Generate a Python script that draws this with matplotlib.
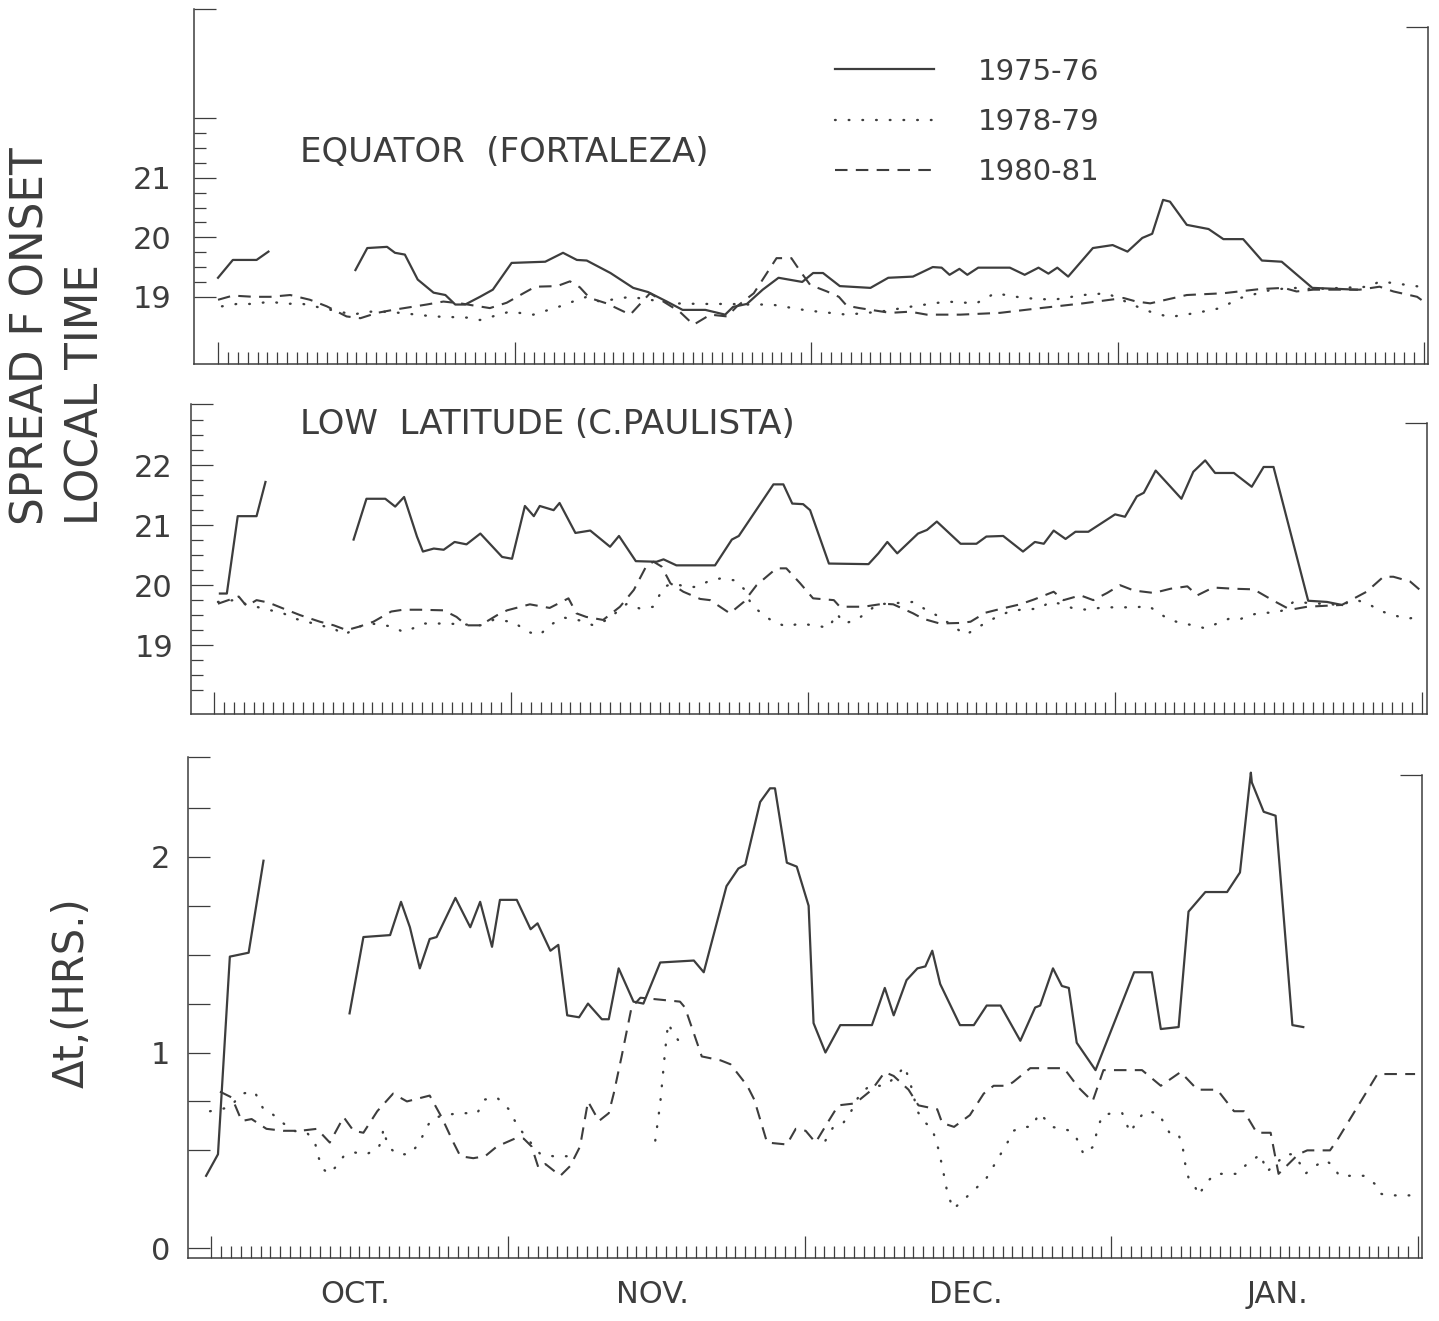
import numpy as np
import matplotlib
matplotlib.use("Agg")
import matplotlib.pyplot as plt
from matplotlib.transforms import blended_transform_factory

# =============================================================================
# Data: day index (0 = 1 Oct) and values; nan = gap
# =============================================================================
nan = np.nan

# --- Equator (Fortaleza), spread F onset local time ---
eq_7576_day = [0, 1.5, 3.9, 5.1, 9,
               13.9, 15.1, 17.1, 17.9, 18.9, 20.2, 21.8, 23.0, 24.0, 25.0, 26.5, 27.8, 29.7,
               33.1, 34.9, 36.3, 37.3, 39.7, 42.0, 43.5, 45.4, 47.0, 49.3, 51.3, 52.1, 53.5,
               55.1, 56.7, 59.1, 60.2, 61.2, 62.9, 66.0, 67.8, 70.3, 72.3, 73.2, 74.0, 75.0,
               75.8, 76.9, 80.1, 81.6, 83.0, 84.0, 84.9, 86.0, 88.5, 90.5, 92.0, 93.5, 94.5,
               95.6, 96.3, 98.0, 100.2, 101.7, 103.7, 105.6, 107.6, 110.7, 115.2]
eq_7576_val = [19.32, 19.62, 19.62, 19.76, nan,
               19.45, 19.82, 19.84, 19.74, 19.71, 19.29, 19.07, 19.03, 18.87, 18.87, 19.0, 19.12, 19.57,
               19.59, 19.74, 19.62, 19.61, 19.40, 19.15, 19.08, 18.92, 18.78, 18.78, 18.70, 18.83, 18.88,
               19.12, 19.32, 19.25, 19.40, 19.40, 19.18, 19.15, 19.32, 19.34, 19.50, 19.49, 19.37, 19.47,
               19.37, 19.49, 19.49, 19.37, 19.49, 19.39, 19.49, 19.34, 19.82, 19.87, 19.76, 19.99, 20.06,
               20.63, 20.60, 20.21, 20.14, 19.97, 19.97, 19.61, 19.59, 19.15, 19.12]

eq_7879_day = [0.4, 1.9, 3.6, 5.3, 6.8, 8.3, 10.3, 13.7, 15.0, 16.7, 18.4, 20.1, 21.8, 25.2, 26.5,
               29.5, 31.9, 34.6, 35.9, 37.3, 38.6, 41.7, 46.1, 48.8, 51.8, 53.5, 56.0, 59.6, 63.6,
               67.0, 70.3, 73.7, 76.7, 78.6, 81.5, 84.5, 87.5, 89.9, 92.9, 94.6, 96.3, 99.0, 101.4,
               103.4, 106.6, 108.8, 110.8, 116.5, 117.5, 118.9, 121.6]
eq_7879_val = [18.84, 18.88, 18.88, 18.92, 18.88, 18.89, 18.82, 18.70, 18.75, 18.75, 18.73, 18.70, 18.67,
               18.65, 18.61, 18.75, 18.70, 18.84, 18.92, 19.0, 18.92, 19.0, 18.89, 18.88, 18.88, 18.87,
               18.87, 18.77, 18.70, 18.75, 18.84, 18.92, 18.89, 19.06, 18.98, 18.95, 19.03, 19.06, 18.84,
               18.73, 18.66, 18.73, 18.81, 18.98, 19.12, 19.15, 19.13, 19.17, 19.26, 19.23, 19.17]

eq_8081_day = [0, 1.5, 3.6, 5.3, 7.3, 9.3, 11.0, 13.0, 14.4, 16.1, 17.7, 21.1, 22.8, 24.5, 27.5, 29.2,
               30.9, 32.1, 34.3, 35.6, 36.6, 37.6, 39.3, 41.7, 43.7, 46.7, 48.1, 49.8, 51.5, 52.5,
               54.2, 56.5, 58.0, 58.9, 59.9, 61.6, 62.8, 63.6, 64.9, 68.0, 70.0, 71.7, 75.1, 79.1,
               83.2, 87.5, 91.6, 92.9, 94.3, 98.0, 101.7, 105.4, 107.8, 109.1, 110.8, 115.5, 117.5,
               118.9, 121.3, 122.3]
eq_8081_val = [18.95, 19.02, 19.0, 19.0, 19.03, 18.95, 18.84, 18.67, 18.64, 18.73, 18.78, 18.87, 18.92,
               18.89, 18.81, 18.90, 19.06, 19.17, 19.18, 19.26, 19.16, 18.98, 18.89, 18.70, 19.06, 18.75,
               18.53, 18.70, 18.67, 18.84, 19.06, 19.65, 19.65, 19.43, 19.20, 19.09, 19.0, 18.85, 18.81,
               18.73, 18.75, 18.70, 18.70, 18.73, 18.81, 18.89, 18.98, 18.92, 18.89, 19.03, 19.06, 19.13,
               19.15, 19.09, 19.12, 19.12, 19.17, 19.09, 19.0, 18.88]

# --- Low latitude (Cachoeira Paulista) ---
lo_7576_day = [0.6, 1.3, 2.4, 4.3, 5.2, 9,
               14.1, 15.4, 17.3, 18.3, 19.2, 20.5, 21.1, 22.2, 23.2, 24.3, 25.5, 26.9, 29.1, 30.1,
               31.4, 32.3, 32.9, 34.3, 34.9, 36.5, 38.0, 40.0, 40.9, 42.6, 44.7, 45.4, 46.7, 50.6,
               52.3, 53.0, 56.5, 57.5, 58.4, 59.5, 60.2, 62.1, 66.1, 67.1, 68.0, 69.0, 71.1, 72.0,
               73.0, 75.4, 77.0, 78.0, 79.7, 81.7, 82.9, 83.8, 84.8, 86.0, 87.0, 88.3, 91.0, 92.0,
               93.2, 93.9, 95.1, 96.6, 97.7, 98.9, 100.1, 101.1, 103.0, 104.8, 106.0, 107.0, 110.5,
               112.4, 113.9]
lo_7576_val = [19.86, 19.86, 21.15, 21.15, 21.72, nan,
               20.76, 21.44, 21.44, 21.31, 21.47, 20.81, 20.56, 20.61, 20.59, 20.72, 20.68, 20.86, 20.47,
               20.44, 21.32, 21.15, 21.32, 21.25, 21.37, 20.87, 20.91, 20.64, 20.82, 20.40, 20.39, 20.43,
               20.33, 20.33, 20.76, 20.82, 21.68, 21.68, 21.36, 21.35, 21.25, 20.36, 20.35, 20.53, 20.72,
               20.53, 20.86, 20.92, 21.06, 20.69, 20.69, 20.81, 20.82, 20.56, 20.72, 20.69, 20.91, 20.77,
               20.89, 20.89, 21.18, 21.14, 21.48, 21.54, 21.91, 21.64, 21.44, 21.89, 22.08, 21.87, 21.87,
               21.64, 21.97, 21.97, 19.74, 19.72, 19.67]

lo_7879_day = [0.4, 2.0, 3.5, 7.0, 8.2, 9.4, 10.7, 12.1, 13.1, 14.7, 15.9, 18.0, 19.1, 20.1, 21.1, 23.5,
               26.9, 28.2, 30.2, 31.7, 32.9, 33.9, 35.3, 37.0, 38.3, 39.7, 41.7, 43.0, 44.4, 45.4,
               46.4, 47.7, 48.8, 50.1, 51.1, 52.6, 53.5, 54.3, 55.5, 56.5, 57.8, 59.2, 60.5, 62.1,
               62.9, 63.6, 64.9, 67.0, 70.6, 72.0, 73.3, 74.7, 75.9, 76.7, 77.9, 79.4, 80.7, 83.4,
               84.4, 85.5, 86.8, 88.2, 89.8, 91.5, 93.0, 94.4, 95.4, 96.4, 97.6, 98.9, 100.1, 101.3,
               102.5, 103.6, 104.6, 105.8, 107.0, 108.0, 109.0, 113.7, 115.4, 116.6, 117.6, 119.1,
               120.5, 121.7]
lo_7879_val = [19.72, 19.75, 19.67, 19.53, 19.44, 19.39, 19.33, 19.28, 19.17, 19.31, 19.36, 19.31, 19.22,
               19.28, 19.36, 19.36, 19.33, 19.42, 19.39, 19.22, 19.17, 19.33, 19.46, 19.41, 19.33, 19.42,
               19.69, 19.61, 19.64, 19.97, 20.03, 19.97, 19.97, 20.08, 20.11, 20.08, 19.94, 19.67, 19.50,
               19.39, 19.31, 19.36, 19.33, 19.29, 19.53, 19.36, 19.42, 19.68, 19.72, 19.58, 19.47, 19.31,
               19.17, 19.25, 19.37, 19.50, 19.58, 19.61, 19.72, 19.69, 19.61, 19.59, 19.63, 19.63, 19.63,
               19.65, 19.54, 19.43, 19.37, 19.33, 19.28, 19.36, 19.44, 19.43, 19.50, 19.54, 19.54, 19.58,
               19.72, 19.67, 19.75, 19.69, 19.58, 19.50, 19.44, 19.47]

lo_8081_day = [0.4, 2.5, 3.3, 4.3, 5.5, 7.0, 8.7, 10.7, 12.1, 13.4, 14.7, 16.1, 17.9, 19.1, 20.8, 23.2,
               24.5, 25.5, 26.9, 28.6, 29.6, 31.9, 33.9, 35.8, 36.6, 37.6, 39.3, 41.0, 42.4, 43.7,
               44.4, 45.2, 46.1, 47.4, 49.1, 50.1, 52.1, 53.5, 54.8, 56.8, 57.8, 59.2, 60.5, 62.6,
               63.2, 65.6, 67.6, 68.6, 70.6, 71.6, 73.3, 75.4, 76.4, 77.9, 79.1, 81.4, 82.8, 84.8,
               85.8, 87.5, 88.8, 90.2, 91.5, 92.9, 94.9, 96.6, 98.3, 99.3, 100.9, 103.0, 105.0, 107.0,
               108.7, 110.4, 113.9, 116.4, 118.1, 119.1, 120.8, 122.0]
lo_8081_val = [19.69, 19.81, 19.65, 19.75, 19.71, 19.61, 19.50, 19.39, 19.33, 19.25, 19.31, 19.39, 19.56,
               19.59, 19.59, 19.58, 19.47, 19.33, 19.33, 19.50, 19.58, 19.68, 19.62, 19.78, 19.53, 19.47,
               19.42, 19.64, 19.92, 20.33, 20.39, 20.31, 20.03, 19.89, 19.77, 19.75, 19.53, 19.72, 20.0,
               20.28, 20.28, 20.03, 19.78, 19.75, 19.64, 19.64, 19.69, 19.68, 19.53, 19.44, 19.36, 19.37,
               19.39, 19.54, 19.59, 19.68, 19.76, 19.89, 19.75, 19.83, 19.75, 19.87, 20.0, 19.91, 19.87,
               19.94, 19.98, 19.83, 19.96, 19.94, 19.93, 19.74, 19.59, 19.64, 19.67, 19.89, 20.14, 20.14,
               20.06, 19.89]

# --- Delta t (hours) ---
dt_7576_day = [-0.5, 0.7, 1.9, 3.8, 5.3, 9,
               14.0, 15.4, 18.1, 19.2, 20.1, 21.1, 22.1, 22.8, 24.7, 26.2, 27.2, 28.4, 29.2, 30.9,
               32.3, 33.0, 34.3, 35.1, 36.0, 37.2, 38.1, 39.5, 40.2, 41.2, 42.7, 43.7, 45.4, 48.8,
               49.8, 52.1, 53.3, 54.0, 55.5, 56.5, 57.0, 58.2, 59.2, 60.4, 60.9, 62.1, 63.6, 66.8,
               68.1, 69.0, 70.3, 71.4, 72.2, 72.9, 73.7, 75.7, 77.1, 78.4, 79.8, 81.8, 83.3, 83.8,
               85.1, 86.0, 86.7, 87.5, 89.4, 93.3, 95.1, 96.0, 97.8, 98.8, 100.5, 102.7, 104.0,
               105.1, 105.2, 106.4, 107.6, 109.3, 110.4]
dt_7576_val = [0.37, 0.48, 1.49, 1.51, 1.98, nan,
               1.20, 1.59, 1.60, 1.77, 1.64, 1.43, 1.58, 1.59, 1.79, 1.64, 1.77, 1.54, 1.78, 1.78,
               1.63, 1.66, 1.52, 1.55, 1.19, 1.18, 1.25, 1.17, 1.17, 1.43, 1.26, 1.25, 1.46, 1.47,
               1.41, 1.85, 1.94, 1.96, 2.28, 2.35, 2.35, 1.97, 1.95, 1.75, 1.15, 1.0, 1.14, 1.14,
               1.33, 1.19, 1.37, 1.43, 1.44, 1.52, 1.35, 1.14, 1.14, 1.24, 1.24, 1.06, 1.23, 1.24,
               1.43, 1.34, 1.33, 1.05, 0.91, 1.41, 1.41, 1.12, 1.13, 1.72, 1.82, 1.82, 1.92,
               2.43, 2.38, 2.23, 2.21, 1.14, 1.13]

dt_7879_day = [-0.1, 1.9, 3.1, 4.4, 5.3, 6.1, 7.0, 8.3, 9.7, 10.5, 10.9, 11.2, 11.9, 12.7, 13.4, 14.4,
               15.7, 16.9, 17.3, 17.4, 17.9, 18.8, 20.1, 21.1, 21.6, 22.3, 23.5, 25.2, 26.9, 27.7,
               28.9, 30.1, 30.6, 31.2, 32.3, 33.3, 34.6, 36.1, 40,
               44.9, 45.4, 45.9, 46.2, 46.7, 47.4, 47.8, 55,
               62.1, 62.9, 63.9, 64.6, 65.6, 66.6, 68.1, 69.3, 70.1, 70.7, 71.4, 72.0, 72.9, 73.5,
               73.9, 74.4, 75.0, 75.7, 77.4, 78.4, 79.1, 79.8, 80.5, 81.1, 82.1, 83.0, 83.7, 84.3,
               85.0, 86.0, 86.9, 87.5, 88.2, 89.2, 89.6, 90.1, 91.1, 92.1, 92.9, 93.6, 94.4, 95.8,
               96.4, 97.0, 97.8, 98.2, 98.5, 98.8, 99.5, 99.8, 100.7, 101.5, 102.5, 103.7, 104.7,
               106.1, 106.7, 107.6, 108.6, 109.4, 110.1, 110.6, 111.6, 112.6, 113.5, 114.0, 115.2,
               116.6, 117.6, 118.1, 118.9, 120.3, 121.6]
dt_7879_val = [0.70, 0.72, 0.79, 0.80, 0.71, 0.69, 0.65, 0.60, 0.59, 0.54, 0.46, 0.41, 0.38, 0.42, 0.47,
               0.49, 0.48, 0.51, 0.56, 0.61, 0.52, 0.48, 0.48, 0.54, 0.60, 0.66, 0.68, 0.69, 0.69, 0.76,
               0.77, 0.71, 0.66, 0.61, 0.54, 0.48, 0.47, 0.47, nan,
               0.55, 0.74, 1.01, 1.15, 1.10, 1.05, 1.02, nan,
               0.55, 0.62, 0.64, 0.69, 0.79, 0.83, 0.83, 0.88, 0.93, 0.84, 0.70, 0.65, 0.61, 0.51,
               0.42, 0.29, 0.20, 0.23, 0.31, 0.36, 0.42, 0.48, 0.54, 0.60, 0.62, 0.62, 0.69, 0.66,
               0.62, 0.61, 0.60, 0.56, 0.48, 0.52, 0.61, 0.68, 0.69, 0.69, 0.59, 0.65, 0.70, 0.69,
               0.63, 0.58, 0.58, 0.52, 0.42, 0.36, 0.31, 0.27, 0.34, 0.38, 0.38, 0.38, 0.43,
               0.48, 0.39, 0.43, 0.48, 0.48, 0.43, 0.38, 0.42, 0.45, 0.42, 0.37, 0.37,
               0.37, 0.33, 0.28, 0.27, 0.27, 0.27]

dt_8081_day = [0.9, 2.1, 3.1, 4.1, 5.6, 7.3, 9.0, 10.7, 12.0, 13.4, 14.4, 15.4, 16.8, 18.4, 19.8, 22.1,
               23.3, 24.5, 25.2, 26.5, 27.7, 28.9, 30.7, 31.6, 32.4, 33.1, 33.8, 35.3, 36.3, 37.3,
               38.1, 39.2, 40.2, 40.7, 41.5, 42.5, 43.4, 47.4, 47.9, 49.6, 51.5, 52.5, 54.2, 54.9,
               56.2, 58.2, 59.1, 60.1, 61.1, 62.3, 63.4, 65.1, 66.8, 68.1, 69.0, 70.5, 71.5, 73.4,
               73.9, 75.1, 76.7, 78.1, 79.1, 80.5, 81.1, 82.8, 86.2, 87.7, 89.1, 90.2, 94.1, 96.0,
               98.0, 99.7, 101.7, 103.4, 104.4, 105.7, 107.1, 107.9, 109.9, 110.8, 113.1, 113.8,
               117.9, 121.7]
dt_8081_val = [0.80, 0.77, 0.65, 0.66, 0.61, 0.60, 0.60, 0.61, 0.54, 0.67, 0.60, 0.59, 0.70, 0.79, 0.75,
               0.78, 0.67, 0.54, 0.47, 0.46, 0.47, 0.52, 0.56, 0.56, 0.52, 0.41, 0.43, 0.37, 0.42, 0.52,
               0.75, 0.65, 0.69, 0.79, 0.98, 1.23, 1.28, 1.26, 1.23, 0.98, 0.96, 0.94, 0.83, 0.76,
               0.54, 0.53, 0.61, 0.60, 0.54, 0.64, 0.73, 0.74, 0.81, 0.90, 0.88, 0.81, 0.73, 0.71,
               0.64, 0.62, 0.68, 0.79, 0.83, 0.83, 0.85, 0.92, 0.92, 0.82, 0.75, 0.91, 0.91, 0.83,
               0.90, 0.81, 0.81, 0.70, 0.70, 0.59, 0.59, 0.38, 0.48, 0.50, 0.50, 0.55,
               0.89, 0.89]

season_labels = ["1975-76", "1978-79", "1980-81"]
month_names = ["OCT.", "NOV.", "DEC.", "JAN."]
month_mid_day = [14.6, 44.6, 76.3, 107.8]
month_end_day = [0, 30, 60, 91, 122]

# =============================================================================
# Style
# =============================================================================
INK = "#3d3d3d"
W, H = 1439, 1321
plt.rcParams["font.family"] = ["DejaVu Sans"]
plt.rcParams["text.color"] = INK

styles = [dict(color=INK, lw=1.6, ls="-"),
          dict(color=INK, lw=1.7, ls=(0, (0.3, 5.5)), dash_capstyle="round"),
          dict(color=INK, lw=1.5, ls=(0, (6, 4)))]


def px_axes(fig, left, right, top, bottom):
    # axes placed from pixel box (y counted from the top of the image)
    return fig.add_axes([left / W, 1 - bottom / H, (right - left) / W, (bottom - top) / H])


def frame(ax, xlim, ylim, right_top, major, labels, minor, major_len, minor_len, lpad):
    ax.set_xlim(*xlim)
    ax.set_ylim(*ylim)
    ax.spines["top"].set_visible(False)
    for side in ["left", "bottom", "right"]:
        ax.spines[side].set_color(INK)
        ax.spines[side].set_linewidth(1.1)
    # the right frame line of the original stops a little below the top
    ax.spines["right"].set_bounds(ylim[0], right_top)
    ax.set_xticks(month_end_day)
    ax.set_xticks(np.arange(0, 123), minor=True)
    ax.set_xticklabels([])
    ax.set_yticks(list(major) + [ylim[1]])
    ax.set_yticklabels(list(labels) + [""])
    ax.set_yticks(minor, minor=True)
    ax.tick_params(axis="x", which="major", direction="in", length=16, width=0.9, color=INK)
    ax.tick_params(axis="x", which="minor", direction="in", length=9, width=0.9, color=INK)
    ax.tick_params(axis="y", which="major", direction="in", length=major_len, width=0.9,
                   color=INK, labelsize=22, labelcolor=INK, pad=lpad)
    ax.tick_params(axis="y", which="minor", direction="in", length=minor_len, width=0.9, color=INK)
    # short cap at the top of the right frame line
    ax2 = ax.twinx()
    ax2.set_ylim(*ylim)
    ax2.set_yticks([right_top])
    ax2.set_yticklabels([])
    ax2.tick_params(axis="y", direction="in", length=16, width=0.9, color=INK)
    for side in ["top", "left", "bottom", "right"]:
        ax2.spines[side].set_visible(False)


def draw(ax, series):
    lines = []
    for (d, v), st in zip(series, styles):
        ln, = ax.plot(d, v, **st)
        lines.append(ln)
    return lines


fig = plt.figure(figsize=(W / 100, H / 100), dpi=100)
fig.patch.set_facecolor("white")

# --- top panel: equator ---
ax1 = px_axes(fig, 194, 1428, 9, 364)
frame(ax1, (-2.43, 122.4), (17.87, 23.84), 23.54, [19, 20, 21, 22], ["19", "20", "21", ""],
      np.arange(19, 22.01, 0.25), 16, 8.6, 16)
eq_lines = draw(ax1, [(eq_7576_day, eq_7576_val), (eq_7879_day, eq_7879_val),
                      (eq_8081_day, eq_8081_val)])
fig.text(300 / W, 1 - 152 / H, "EQUATOR  (FORTALEZA)", fontsize=24.5, ha="left", va="center")
ax1.legend(eq_lines, season_labels, loc="upper left", frameon=False, fontsize=21,
           bbox_to_anchor=(823 / W, 1 - 46 / H), bbox_transform=fig.transFigure,
           handlelength=3.4, handletextpad=1.5, labelspacing=0.76, borderaxespad=0)

# --- middle panel: low latitude ---
ax2 = px_axes(fig, 191, 1427, 404, 713.5)
frame(ax2, (-2.32, 122.5), (17.86, 23.02), 22.7, [19, 20, 21, 22], ["19", "20", "21", "22"],
      np.arange(18.25, 22.8, 0.25), 16, 8.6, 13)
draw(ax2, [(lo_7576_day, lo_7576_val), (lo_7879_day, lo_7879_val), (lo_8081_day, lo_8081_val)])
fig.text(300 / W, 1 - 425 / H, "LOW  LATITUDE (C.PAULISTA)", fontsize=24.5, ha="left", va="center")

# --- bottom panel: delta t ---
ax3 = px_axes(fig, 188, 1422, 757, 1258)
frame(ax3, (-2.33, 122.4), (-0.05, 2.51), 2.42, [0, 1, 2], ["0", "1", "2"],
      [0.5, 0.75, 1.25, 1.5, 1.75, 2.25], 16, 16, 13)
draw(ax3, [(dt_7576_day, dt_7576_val), (dt_7879_day, dt_7879_val), (dt_8081_day, dt_8081_val)])
trans = blended_transform_factory(ax3.transData, ax3.transAxes)
for name, day in zip(month_names, month_mid_day):
    ax3.text(day, -0.072, name, transform=trans, ha="center", va="center", fontsize=22)

# --- axis titles ---
fig.text(31 / W, 1 - 525 / H, "SPREAD F ONSET", rotation=90, ha="center", va="bottom", fontsize=31.5)
fig.text(86 / W, 1 - 525 / H, "LOCAL TIME", rotation=90, ha="center", va="bottom", fontsize=31.5)
fig.text(72 / W, 1 - 1088 / H, "Δt,(HRS.)", rotation=90, ha="center", va="bottom", fontsize=30)

fig.savefig("out.png", dpi=100)
